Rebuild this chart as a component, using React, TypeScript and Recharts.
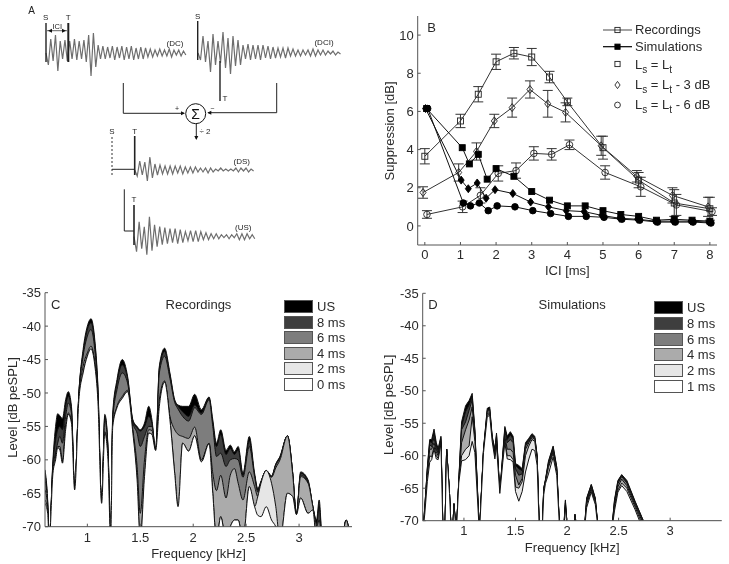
import React from 'react';
import {
  Area,
  AreaChart,
  ErrorBar,
  Legend,
  Line,
  LineChart,
  ReferenceDot,
  ReferenceLine,
  XAxis,
  YAxis,
} from 'recharts';

const FONT = '"Liberation Sans", Arial, sans-serif';
const INK = '#2a2a2a';

// ---- panel A, traces in px above their own baseline ----
const traceDC = [0, -12, 14, -8, 18, -18, 12, -6, 13, -8, 12, -6, 14, -7, 12, -6, 13, -9, 18, -23, 20, -14, 8, -6, 7, -6, 6, -5, 7, -7, 6, -5, 7, -7, 6, -6, 7, -7, 5, -6, 6, -6, 5, -4, 4, -4, 3, -3, 4, -3, 3, -3, 4, -4, 3, -2, 3, -3, 2, -2];
const traceDCI = [0, -7, 17, -9, 12, -19, 19, -12, 12, -10, 21, -15, 15, -21, 17, -13, 13, -12, 8, -6, 9, -7, 8, -6, 8, -7, 8, -5, 7, -6, 6, -5, 5, -4, 5, -5, 5, -3, 4, -3, 3, -3, 3, -2, 3, -3, 4, -3, 3, -2, 3, -2, 2, -1, 2, -2, 1, -1];
const traceDS = [0, -6, 9, -5, 8, -11, 13, -8, 6, -5, 5, -4, 4, -4, 4, -4, 4, -3, 4, -4, 3, -3, 3, -3, 3, -2, 2, -2, 2, -3, 2, -2, 1, -1, 2, -1, 1, -1, 1, -1, 2, -2, 2, -1, 2, -2, 1, -1];
const traceUS = [0, -15, 15, -12, 10, -18, 20, -14, 12, -10, 10, -8, 9, -7, 8, -6, 8, -7, 7, -6, 5, -4, 6, -5, 6, -5, 5, -3, 4, -3, 3, -2, 3, -2, 2, -1, 2, -2, 2, -1, 3, -3, 3, -3, 3, -2, 2, -2];

const schemeLines = [
  { p: [[46, 23], [46, 62]], w: 1.4 },
  { p: [[68.3, 23], [68.3, 62]], w: 2 },
  { p: [[47, 30.7], [67, 30.7]], w: 0.7 },
  { p: [[197.7, 21], [197.7, 60]], w: 1.4 },
  { p: [[220, 61], [220, 101]], w: 1.4 },
  { p: [[123.3, 83], [123.3, 113.3]], w: 1 },
  { p: [[123.3, 113.3], [184, 113.3]], w: 1 },
  { p: [[276.7, 83], [276.7, 112.7]], w: 1 },
  { p: [[276.7, 112.7], [208, 112.7]], w: 1 },
  { p: [[196.3, 124], [196.3, 139]], w: 1 },
  { p: [[134.7, 136], [134.7, 175]], w: 1.6 },
  { p: [[112, 169.3], [134.7, 169.3]], w: 1 },
  { p: [[124.3, 189.3], [124.3, 231]], w: 1 },
  { p: [[124.3, 231], [134, 231]], w: 1 },
  { p: [[134, 205], [134, 245]], w: 1.6 },
];
const schemeArrows = [
  { x: 185, y: 113.3, dir: 'r' },
  { x: 207.3, y: 112.7, dir: 'l' },
  { x: 196.3, y: 140, dir: 'd' },
  { x: 48, y: 30.7, dir: 'l' },
  { x: 66, y: 30.7, dir: 'r' },
];
const schemeTexts = [
  { t: 'A', x: 31.7, y: 10, s: 10 },
  { t: 'S', x: 45.7, y: 16.7, s: 8 },
  { t: 'T', x: 68.3, y: 16.7, s: 8 },
  { t: 'ICI', x: 57.3, y: 26.5, s: 7.5 },
  { t: '(DC)', x: 175, y: 43.3, s: 8 },
  { t: 'S', x: 197.7, y: 16, s: 8 },
  { t: 'T', x: 225, y: 98, s: 8 },
  { t: '(DCI)', x: 324, y: 42, s: 8 },
  { t: '+', x: 177, y: 109, s: 7 },
  { t: '−', x: 212.3, y: 109, s: 7 },
  { t: '÷ 2', x: 205, y: 131, s: 8 },
  { t: 'S', x: 112, y: 130.7, s: 8 },
  { t: 'T', x: 134.7, y: 130.7, s: 8 },
  { t: '(DS)', x: 241.7, y: 160.7, s: 8 },
  { t: 'T', x: 134, y: 199.3, s: 8 },
  { t: '(US)', x: 243.3, y: 227, s: 8 },
];

// ---- panel B ----
const recX = [0, 1, 1.5, 2, 2.5, 3, 3.5, 4, 5, 6, 7, 8];
const recSquare = [3.65, 5.5, 6.9, 8.6, 9.05, 8.85, 7.8, 6.5, 4.1, 2.4, 1.2, 0.9];
const recSquareErr = [0.4, 0.35, 0.4, 0.4, 0.3, 0.45, 0.3, 0.2, 0.6, 0.4, 0.7, 0.6];
const recDiamond = [1.75, 2.8, 3.9, 5.5, 6.2, 7.15, 6.4, 5.95, 4.2, 2.6, 1.6, 1.0];
const recDiamondErr = [0.3, 0.45, 0.45, 0.35, 0.5, 0.45, 0.7, 0.5, 0.5, 0.3, 0.4, 0.5];
const recCircle = [0.6, 1.0, 1.6, 2.75, 2.9, 3.8, 3.75, 4.25, 2.8, 2.05, 1.1, 0.75];
const recCircleErr = [0.2, 0.3, 0.4, 0.4, 0.4, 0.35, 0.3, 0.25, 0.35, 0.5, 0.55, 0.2];
const simX = [0.05, 1.05, 1.25, 1.5, 1.75, 2, 2.5, 3, 3.5, 4, 4.5, 5, 5.5, 6, 6.5, 7, 7.5, 8];
const simSquare = [6.15, 4.1, 3.25, 3.75, 2.45, 3.0, 2.6, 1.8, 1.35, 1.05, 1.05, 0.8, 0.6, 0.5, 0.3, 0.35, 0.3, 0.25];
const simDiamond = [6.15, 2.4, 1.95, 2.25, 1.45, 1.9, 1.7, 1.25, 1.0, 0.8, 0.75, 0.55, 0.4, 0.35, 0.25, 0.25, 0.25, 0.2];
const simCircle = [6.15, 1.2, 1.05, 1.2, 0.8, 1.05, 1.0, 0.8, 0.65, 0.5, 0.5, 0.45, 0.35, 0.3, 0.2, 0.2, 0.2, 0.15];
const iciTicks = [0, 1, 2, 3, 4, 5, 6, 7, 8];
const suppressionTicks = [0, 2, 4, 6, 8, 10];

// ---- panel C ----
const cFreq = [0.6, 0.625, 0.64, 0.675, 0.7, 0.72, 0.74, 0.765, 0.795, 0.82, 0.85, 0.88, 0.92, 0.96, 1.0, 1.035, 1.07, 1.1, 1.135, 1.165, 1.195, 1.22, 1.24, 1.28, 1.33, 1.38, 1.43, 1.47, 1.5, 1.54, 1.58, 1.61, 1.645, 1.68, 1.73, 1.78, 1.825, 1.857, 1.9, 1.957, 2.014, 2.077, 2.15, 2.185, 2.22, 2.26, 2.31, 2.35, 2.39, 2.425, 2.47, 2.53, 2.58, 2.61, 2.64, 2.69, 2.74, 2.78, 2.82, 2.89, 2.94, 2.975, 3.015, 3.085, 3.13, 3.165, 3.19, 3.22, 3.41, 3.445, 3.48, 3.5];
const cUS = [-61.5, -66, -72, -60, -55, -53.1, -53.4, -53.8, -51, -49.8, -52, -64.5, -50, -43.5, -40, -38.9, -42, -49, -66.5, -53.2, -58, -72, -53, -48, -45, -47.5, -54, -55, -55.5, -54.5, -52, -54, -58.6, -46, -43.3, -47, -51, -51.8, -52, -52, -50.2, -52.5, -50.6, -54, -57.5, -55.5, -58.6, -57.8, -58.8, -58, -62, -56.5, -62, -64.3, -63.2, -61.6, -62.4, -60.6, -59.5, -56.4, -62, -68.2, -61.8, -63, -67, -69, -66, -72, -71, -69, -71, -72];
const c8ms = [-62, -66.3, -72, -60.5, -57, -55.5, -55, -55.5, -52, -50.5, -52.5, -64.5, -50, -44, -40.5, -39.5, -42.5, -49.5, -66.5, -53.5, -58.3, -72, -53.5, -48.5, -45.8, -47.8, -54.2, -55.2, -55.7, -55, -53.5, -54.5, -58.6, -46.3, -43.8, -47.3, -51.2, -52, -52.8, -53.5, -51.8, -53, -50.8, -54.5, -58, -56.2, -59.2, -58.3, -59.2, -58.5, -62.3, -57.2, -62.3, -64.5, -63.3, -61.6, -62.5, -60.7, -59.5, -56.4, -62, -68.2, -62, -63.2, -67, -69.5, -67, -72, -71, -69, -71, -72];
const c6ms = [-63, -66.6, -72, -61, -59, -57.5, -56.5, -57.5, -53.5, -51.5, -53, -64.5, -50.2, -44.5, -41.5, -40.5, -43.5, -50, -66.5, -54, -58.5, -72, -54, -49.5, -47, -48.5, -54.5, -56, -58, -56.5, -55, -55, -58.6, -47, -44.5, -47.8, -51.4, -52.4, -53.5, -54.2, -52.2, -53.2, -51, -55, -59.5, -59, -61, -60, -59.8, -60, -62.6, -58, -62.5, -64.8, -63.4, -61.6, -62.5, -60.8, -59.7, -56.4, -62, -68.2, -62.3, -63.4, -67, -70, -69, -72, -71, -69, -71, -72];
const c4ms = [-64.5, -67, -72, -61.5, -59.5, -58, -58, -60.3, -55, -53, -54, -64.5, -50.5, -46, -44, -43, -45.5, -51, -66.5, -55.8, -59.5, -72, -55, -52, -50.5, -49.6, -55.5, -61, -68, -60, -55.5, -55.6, -58.6, -51, -48.2, -53.5, -55.5, -56.2, -56.5, -56.8, -55.1, -60, -57.5, -62, -64.6, -62.3, -65.7, -62.3, -61.3, -63.5, -66, -61.8, -64, -65.5, -63.5, -61.6, -62.6, -61.2, -60, -56.4, -62.2, -68.2, -62.5, -63.5, -67, -70, -72, -72, -71, -69, -71, -72];
const c2ms = [-66, -67.5, -72, -62, -60, -58.2, -58.5, -60.5, -55.5, -53.2, -54.5, -64.5, -51, -47, -44.5, -43.4, -45.8, -51.3, -66.5, -56, -60, -72, -55, -52.2, -50.8, -49.8, -56, -63, -72, -62.5, -56, -56.2, -58.6, -52, -48.4, -54, -62, -67, -57.5, -58.7, -56.4, -60.3, -57.6, -65, -72, -68.5, -72, -70, -69, -69, -72, -64, -67, -65.5, -63.5, -61.6, -63.5, -67, -72, -65, -65.5, -68.2, -65.7, -68, -67.5, -72, -72, -72, -72, -72, -72, -72];
const c0ms = [-66.5, -68, -72, -62, -60, -58.2, -58.5, -60.5, -55.5, -53.2, -54.5, -64.5, -51, -47, -44.5, -43.4, -45.8, -51.3, -66.5, -56, -60, -72, -55, -52.2, -50.8, -49.8, -56, -63, -72, -62.5, -56, -56.2, -58.6, -52, -48.4, -54, -62, -67, -57.5, -58.7, -56.4, -60.3, -57.6, -65, -72, -68.5, -72, -70, -69, -69, -72, -64, -67, -68.3, -68.5, -67, -69, -70, -72, -65, -65.5, -68.2, -65.7, -68, -67.5, -72, -72, -72, -72, -72, -72, -72];

// ---- panel D ----
const dFreq = [0.6, 0.62, 0.645, 0.668, 0.687, 0.71, 0.732, 0.75, 0.777, 0.797, 0.815, 0.832, 0.86, 0.877, 0.89, 0.903, 0.926, 0.95, 0.977, 1.016, 1.05, 1.08, 1.106, 1.15, 1.19, 1.226, 1.25, 1.274, 1.3, 1.316, 1.348, 1.377, 1.397, 1.42, 1.45, 1.477, 1.5, 1.532, 1.565, 1.597, 1.63, 1.66, 1.687, 1.71, 1.732, 1.758, 1.774, 1.79, 1.82, 1.865, 1.9, 1.93, 1.965, 1.984, 2.006, 2.06, 2.077, 2.1, 2.165, 2.19, 2.235, 2.274, 2.306, 2.43, 2.46, 2.493, 2.53, 2.58, 2.66, 2.74, 2.77, 3.5];
const dUS = [-72, -68, -61.8, -57.5, -57.5, -55.9, -58, -58.9, -57, -72, -72, -59, -65.8, -72, -72, -67.4, -72, -63.8, -54.8, -52.3, -51.5, -50.4, -56, -72, -59, -52.7, -52.5, -57, -59, -56.5, -65.8, -59.6, -55.5, -57, -56.3, -57, -61.2, -61.5, -62, -58, -57.3, -56.6, -57, -60, -72, -72, -65, -63.7, -60.8, -58.5, -61.7, -72, -72, -66.8, -72, -72, -69, -72, -72, -66.5, -64.4, -66.5, -72, -72, -66.8, -63.8, -62.9, -63.8, -67, -70, -72, -72];
const d8ms = [-72, -68, -62, -57.8, -58, -56.5, -58.4, -59.2, -57.2, -72, -72, -59, -65.8, -72, -72, -67.4, -72, -63.9, -55.5, -53.2, -52.2, -50.9, -56.2, -72, -59, -53, -52.8, -57.2, -59.2, -56.8, -65.8, -59.8, -55.8, -57.5, -56.8, -57.4, -61.5, -62, -62.3, -58.3, -57.5, -56.8, -57.2, -60, -72, -72, -65, -63.8, -61, -58.7, -61.8, -72, -72, -67, -72, -72, -69, -72, -72, -66.7, -64.5, -66.6, -72, -72, -67, -64, -63, -64, -67.1, -70, -72, -72];
const d6ms = [-72, -68, -62.2, -58.3, -58.6, -57.2, -59, -59.6, -57.5, -72, -72, -59, -65.8, -72, -72, -67.4, -72, -64, -56, -54.8, -53, -51.4, -56.5, -72, -59.2, -53.2, -53, -57.3, -59.5, -57, -65.8, -60, -56.2, -58, -57.5, -58, -62, -63, -62.8, -58.5, -57.8, -57, -57.3, -60.2, -72, -72, -65, -63.9, -61.2, -59, -62, -72, -72, -67.3, -72, -72, -69.2, -72, -72, -67, -64.7, -66.8, -72, -72, -67.2, -64.3, -63.2, -64.2, -67.3, -70.2, -72, -72];
const d4ms = [-72, -68.3, -62.6, -59, -59, -58, -59.4, -60, -57.8, -72, -72, -59, -65.8, -72, -72, -67.4, -72, -64, -58, -56, -54.5, -52.5, -57, -72, -59.3, -53.5, -53.4, -57.5, -60, -57.6, -65.8, -60.4, -57, -59, -59, -59.5, -63, -64.5, -63.5, -59, -58, -57.2, -57.5, -60.4, -72, -72, -65.3, -64, -61.5, -59.3, -62.2, -72, -72, -67.6, -72, -72, -69.4, -72, -72, -67.3, -65, -67, -72, -72, -67.6, -64.8, -63.6, -64.6, -67.6, -70.5, -72, -72];
const d2ms = [-72, -68.5, -63, -60, -60.2, -58.6, -60, -60.4, -58, -72, -72, -59, -65.8, -72, -72, -67.4, -72, -64, -60, -59, -58.5, -54, -57.8, -72, -59.4, -53.8, -53.6, -57.6, -60.3, -58.2, -65.8, -60.7, -57.6, -60, -60, -60.6, -64.8, -65, -64, -60, -58.5, -57.5, -57.8, -60.6, -72, -72, -65.5, -64.1, -61.8, -59.6, -62.4, -72, -72, -67.8, -72, -72, -69.6, -72, -72, -67.5, -65.3, -67.2, -72, -72, -68, -65.3, -64.2, -65, -67.9, -71, -72, -72];
const d1ms = [-72, -69, -64, -61, -60.6, -59, -60.5, -60.6, -58.2, -72, -72, -59, -65.8, -72, -72, -67.4, -72, -64.2, -60.8, -60.6, -60, -57.8, -59.5, -72, -59.5, -54, -53.8, -57.8, -60.5, -58.5, -65.8, -61, -58, -60.5, -60.6, -61, -65.5, -67, -65.5, -62.5, -60.5, -59, -59.2, -61.5, -72, -72, -66, -64.3, -62.8, -60.2, -63, -72, -72, -68, -72, -72, -69.8, -72, -72, -68, -65.6, -67.5, -72, -72, -68.5, -65.6, -64.6, -65.5, -68.3, -71.5, -72, -72];

const levelTicks = [-70, -65, -60, -55, -50, -45, -40, -35];
const freqTicks = [1, 1.5, 2, 2.5, 3];
const bandFills = ['#000000', '#3e3e3e', '#7d7d7d', '#ababab', '#e6e6e6', '#ffffff'];
const cNames = ['US', '8 ms', '6 ms', '4 ms', '2 ms', '0 ms'];
const dNames = ['US', '8 ms', '6 ms', '4 ms', '2 ms', '1 ms'];

const toPoints = (xs: number[], ys: number[], errs?: number[]) =>
  xs.map((x, i) => ({ x, y: ys[i], err: errs ? errs[i] : 0 }));

const tickStyle = { fontSize: 13, fill: INK, fontFamily: FONT };
const blank = () => '';

function Marker(props: any) {
  const { cx, cy, kind, filled, size = 3 } = props;
  if (cx == null || cy == null) return <g />;
  const fill = filled ? '#000' : 'none';
  const stroke = filled ? '#000' : '#222';
  if (kind === 'square')
    return <rect x={cx - size} y={cy - size} width={size * 2} height={size * 2} fill={fill} stroke={stroke} strokeWidth={0.9} />;
  if (kind === 'diamond')
    return (
      <polygon
        points={`${cx},${cy - size - 1} ${cx + size},${cy} ${cx},${cy + size + 1} ${cx - size},${cy}`}
        fill={fill}
        stroke={stroke}
        strokeWidth={0.9}
      />
    );
  return <circle cx={cx} cy={cy} r={size + 0.3} fill={fill} stroke={stroke} strokeWidth={0.9} />;
}

function Arrow({ cx, cy, dir }: any) {
  const pts: Record<string, string> = {
    r: `${cx},${cy} ${cx - 4},${cy - 2} ${cx - 4},${cy + 2}`,
    l: `${cx},${cy} ${cx + 4},${cy - 2} ${cx + 4},${cy + 2}`,
    d: `${cx},${cy} ${cx - 2},${cy - 4} ${cx + 2},${cy - 4}`,
  };
  return <polygon points={pts[dir]} fill="#111" />;
}

function Scheme() {
  const trace = (values: number[], start: number, base: number, step: number) =>
    values.map((v, i) => ({ x: start + i * step, y: base - v }));
  const traces = [
    trace(traceDC, 46, 53, 2.37),
    trace(traceDCI, 198, 53, 2.5),
    trace(traceDS, 134.7, 170, 2.53),
    trace(traceUS, 134, 236.7, 2.57),
  ];
  return (
    <div style={{ position: 'absolute', left: 0, top: 0, willChange: 'transform' }}>
      <LineChart width={360} height={270} margin={{ top: 0, right: 0, bottom: 0, left: 0 }}>
        <XAxis type="number" dataKey="x" domain={[0, 360]} hide />
        <YAxis type="number" domain={[0, 270]} reversed hide />
        {traces.map((d, i) => (
          <Line key={i} data={d} dataKey="y" dot={false} activeDot={false} stroke="#6e6e6e" strokeWidth={1.2} isAnimationActive={false} />
        ))}
        {schemeLines.map((l, i) => (
          <ReferenceLine
            key={i}
            segment={[
              { x: l.p[0][0], y: l.p[0][1] },
              { x: l.p[1][0], y: l.p[1][1] },
            ]}
            stroke="#222"
            strokeWidth={l.w}
          />
        ))}
        <ReferenceLine
          segment={[
            { x: 112, y: 137 },
            { x: 112, y: 176 },
          ]}
          stroke="#333"
          strokeWidth={1}
          strokeDasharray="2 2"
        />
        {schemeArrows.map((a, i) => (
          <ReferenceDot key={i} x={a.x} y={a.y} r={1} shape={(p: any) => <Arrow {...p} dir={a.dir} />} />
        ))}
        <ReferenceDot
          x={195.7}
          y={113.7}
          r={10}
          fill="#fff"
          stroke="#111"
          strokeWidth={1}
          label={{ value: 'Σ', position: 'center', fontSize: 14, fill: '#111', fontFamily: FONT }}
        />
        {schemeTexts.map((t, i) => (
          <ReferenceDot
            key={i}
            x={t.x}
            y={t.y}
            r={0}
            fill="none"
            stroke="none"
            label={{ value: t.t, position: 'center', fontSize: t.s, fill: '#222', fontFamily: FONT }}
          />
        ))}
      </LineChart>
    </div>
  );
}

function SuppressionLegend() {
  const row = (top: number, left: number, node: React.ReactNode) => (
    <div style={{ position: 'absolute', top, left, whiteSpace: 'nowrap', lineHeight: '16px' }}>{node}</div>
  );
  const glyph = (y: number, kind: string, filled: boolean, line: boolean, stroke: string) => (
    <g>
      {line && <line x1={0} x2={29} y1={y} y2={y} stroke={stroke} strokeWidth={1.2} />}
      <Marker cx={14.5} cy={y} kind={kind} filled={filled} size={2.6} />
    </g>
  );
  const sub = { fontSize: 10, lineHeight: 0 };
  return (
    <div style={{ position: 'relative', width: 125, height: 100, fontFamily: FONT, fontSize: 13, color: INK }}>
      <svg width={30} height={100} style={{ position: 'absolute', left: 0, top: 0 }}>
        {glyph(10, 'square', false, true, '#666')}
        {glyph(26.7, 'square', true, true, '#000')}
        {glyph(44, 'square', false, false, '#000')}
        {glyph(65, 'diamond', false, false, '#000')}
        {glyph(85, 'circle', false, false, '#000')}
      </svg>
      {row(2, 32, 'Recordings')}
      {row(19, 32, 'Simulations')}
      {row(37, 32, <span>L<sub style={sub}>s</sub> = L<sub style={sub}>t</sub></span>)}
      {row(57, 32, <span>L<sub style={sub}>s</sub> = L<sub style={sub}>t</sub> - 3 dB</span>)}
      {row(77, 32, <span>L<sub style={sub}>s</sub> = L<sub style={sub}>t</sub> - 6 dB</span>)}
    </div>
  );
}

function Suppression() {
  const shift = (xs: number[], d: number) => xs.map((x) => x + d);
  const recordings = [
    { kind: 'square', data: toPoints(recX, recSquare, recSquareErr) },
    { kind: 'diamond', data: toPoints(shift(recX, -0.05), recDiamond, recDiamondErr) },
    { kind: 'circle', data: toPoints(shift(recX, 0.06), recCircle, recCircleErr) },
  ];
  const simulations = [
    { kind: 'square', data: toPoints(simX, simSquare) },
    { kind: 'diamond', data: toPoints(shift(simX, -0.03), simDiamond) },
    { kind: 'circle', data: toPoints(shift(simX, 0.03), simCircle) },
  ];
  return (
    <div style={{ position: 'absolute', left: 370, top: 0, willChange: 'transform' }}>
      <LineChart width={359} height={280} margin={{ top: 16, right: 12, bottom: 0, left: 0 }}>
        <XAxis
          type="number"
          dataKey="x"
          domain={[-0.2, 8.2]}
          ticks={iciTicks}
          interval={0}
          height={35}
          tick={tickStyle}
          tickSize={-3}
          tickMargin={7.5}
          stroke="#555"
          label={{ value: 'ICI [ms]', position: 'insideBottom', offset: 5, fontSize: 13, fill: INK, fontFamily: FONT }}
        />
        <XAxis xAxisId="top" orientation="top" type="number" domain={[-0.2, 8.2]} ticks={iciTicks} interval={0} height={0} tickSize={-3} tickFormatter={blank} stroke="#555" />
        <YAxis
          type="number"
          domain={[-1, 11]}
          ticks={suppressionTicks}
          interval={0}
          width={47.7}
          tick={tickStyle}
          tickSize={-3}
          tickMargin={7}
          stroke="#555"
          allowDataOverflow
          label={{ value: 'Suppression [dB]', angle: -90, position: 'insideLeft', offset: 19, dy: 50, fontSize: 13, fill: INK, fontFamily: FONT }}
        />
        <YAxis yAxisId="right" orientation="right" type="number" domain={[-1, 11]} ticks={suppressionTicks} interval={0} width={0} tickSize={-3} tickFormatter={blank} stroke="#555" />
        {recordings.map((s) => (
          <Line
            key={`rec-${s.kind}`}
            data={s.data}
            dataKey="y"
            type="linear"
            stroke="#333"
            strokeWidth={1}
            activeDot={false}
            isAnimationActive={false}
            dot={(p: any) => <Marker key={p.index} cx={p.cx} cy={p.cy} kind={s.kind} size={3} />}
          >
            <ErrorBar dataKey="err" width={5} stroke="#333" strokeWidth={1} direction="y" />
          </Line>
        ))}
        {simulations.map((s) => (
          <Line
            key={`sim-${s.kind}`}
            data={s.data}
            dataKey="y"
            type="linear"
            stroke="#111"
            strokeWidth={1}
            activeDot={false}
            isAnimationActive={false}
            dot={(p: any) => <Marker key={p.index} cx={p.cx} cy={p.cy} kind={s.kind} filled size={3} />}
          />
        ))}
        <ReferenceDot x={0.19} y={10.4} r={0} fill="none" stroke="none" label={{ value: 'B', position: 'center', fontSize: 13, fill: INK, fontFamily: FONT }} />
        <Legend verticalAlign="middle" content={<SuppressionLegend />} wrapperStyle={{ left: 233, top: 20, width: 125, height: 100 }} />
      </LineChart>
    </div>
  );
}

function BandLegend({ names, spacing }: { names: string[]; spacing: number }) {
  return (
    <div style={{ fontFamily: FONT, fontSize: 13, color: INK }}>
      {names.map((n, i) => (
        <div key={n} style={{ display: 'flex', alignItems: 'center', height: spacing }}>
          <div style={{ width: 27, height: 11, background: bandFills[i], border: '1px solid #555', marginRight: 4 }} />
          <span>{n}</span>
        </div>
      ))}
    </div>
  );
}

type SpectrumProps = {
  left: number;
  width: number;
  plotLeft: number;
  right: number;
  top: number;
  bottom: number;
  tickGap: number;
  labelOffset: number;
  yLabelOffset: number;
  freq: number[];
  curves: number[][];
  names: string[];
  letter: string;
  title: string;
  legendLeft: number;
  legendTop: number;
  spacing: number;
  curve: 'monotone' | 'linear';
};

function Spectrum(p: SpectrumProps) {
  const rows = p.freq.map((f, i) => {
    const row: Record<string, number> = { f };
    p.names.forEach((n, k) => {
      row[n] = p.curves[k][i];
    });
    return row;
  });
  return (
    <div style={{ position: 'absolute', left: p.left, top: 280, willChange: 'transform' }}>
      <AreaChart width={p.width} height={284} data={rows} margin={{ top: p.top, right: p.right, bottom: 0, left: 0 }}>
        <XAxis
          type="number"
          dataKey="f"
          domain={[0.6, 3.5]}
          ticks={freqTicks}
          interval={0}
          allowDataOverflow
          height={p.bottom}
          tick={tickStyle}
          tickSize={-3}
          tickMargin={p.tickGap}
          stroke="#555"
          label={{ value: 'Frequency [kHz]', position: 'insideBottom', offset: p.labelOffset, fontSize: 13, fill: INK, fontFamily: FONT }}
        />
        <XAxis xAxisId="top" orientation="top" type="number" dataKey="f" domain={[0.6, 3.5]} ticks={freqTicks} interval={0} height={0} tickSize={-3} tickFormatter={blank} stroke="#555" />
        <YAxis
          type="number"
          domain={[-70, -35]}
          ticks={levelTicks}
          interval={0}
          allowDataOverflow
          width={p.plotLeft}
          tick={tickStyle}
          tickSize={-3}
          tickMargin={7}
          stroke="#555"
          label={{ value: 'Level [dB peSPL]', angle: -90, position: 'insideLeft', offset: p.yLabelOffset, dy: 48, fontSize: 13, fill: INK, fontFamily: FONT }}
        />
        <YAxis yAxisId="right" orientation="right" type="number" domain={[-70, -35]} ticks={levelTicks} interval={0} width={0} tickSize={-3} tickFormatter={blank} stroke="#555" />
        {p.names.map((n, i) => (
          <Area
            key={n}
            dataKey={n}
            type={p.curve}
            baseValue={-70}
            fill={bandFills[i]}
            fillOpacity={1}
            stroke="#111"
            strokeWidth={1}
            dot={false}
            activeDot={false}
            isAnimationActive={false}
          />
        ))}
        <ReferenceDot x={0.7} y={-36.7} r={0} fill="none" stroke="none" label={{ value: p.letter, position: 'center', fontSize: 13, fill: INK, fontFamily: FONT }} />
        <ReferenceDot x={2.05} y={-36.7} r={0} fill="none" stroke="none" label={{ value: p.title, position: 'center', fontSize: 13, fill: INK, fontFamily: FONT }} />
        <Legend
          verticalAlign="middle"
          content={<BandLegend names={p.names} spacing={p.spacing} />}
          wrapperStyle={{ left: p.legendLeft, top: p.legendTop, width: 70 }}
        />
      </AreaChart>
    </div>
  );
}

export default function App() {
  return (
    <div style={{ position: 'absolute', left: 0, top: 0, width: 729, height: 564 }}>
      <Scheme />
      <Suppression />
      <Spectrum
        left={0}
        width={365}
        plotLeft={45}
        right={13}
        top={12.7}
        bottom={37.3}
        tickGap={9.5}
        labelOffset={6.5}
        yLabelOffset={12}
        freq={cFreq}
        curves={[cUS, c8ms, c6ms, c4ms, c2ms, c0ms]}
        names={cNames}
        letter="C"
        title="Recordings"
        legendLeft={284}
        legendTop={19}
        spacing={15.5}
        curve="monotone"
      />
      <Spectrum
        left={365}
        width={364}
        plotLeft={57.7}
        right={7.3}
        top={13.3}
        bottom={43.3}
        tickGap={8.5}
        labelOffset={12.5}
        yLabelOffset={23}
        freq={dFreq}
        curves={[dUS, d8ms, d6ms, d4ms, d2ms, d1ms]}
        names={dNames}
        letter="D"
        title="Simulations"
        legendLeft={289}
        legendTop={20}
        spacing={15.7}
        curve="linear"
      />
    </div>
  );
}
